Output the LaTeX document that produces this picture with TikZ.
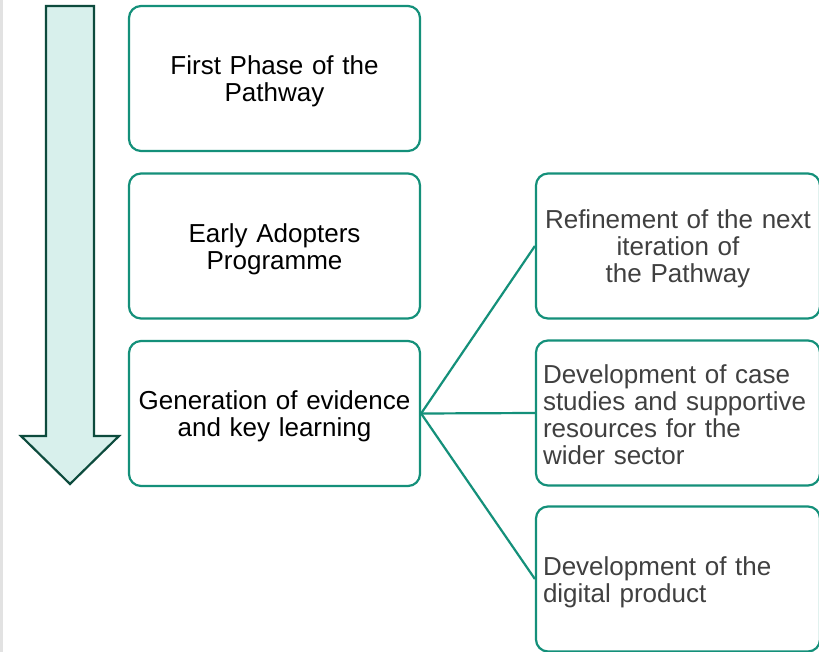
\documentclass[tikz,border=0pt]{standalone}
\usepackage{fontspec}
\setmainfont{Liberation Sans}
\definecolor{teal1}{HTML}{14907A}
\definecolor{darkarrow}{HTML}{0D4B3D}
\definecolor{arrowfill}{HTML}{D8F0EC}
\definecolor{graytext}{HTML}{404040}
\definecolor{stripgray}{HTML}{E2E2E2}
\begin{document}
\begin{tikzpicture}[x=1pt,y=-1pt,
  box/.style={draw=teal1, line width=2.2pt, rounded corners=12pt, fill=white,
    minimum height=145pt, inner sep=0pt},
  leftbox/.style={box, minimum width=291pt},
  rightbox/.style={box, minimum width=284pt},
  lbl/.style={inner sep=0pt, font=\fontsize{26}{27}\selectfont},
  leftlbl/.style={lbl, text width=283pt, align=center, text=black},
  rightlbl/.style={lbl, text width=270pt, text=graytext},
  link/.style={draw=teal1, line width=2.2pt}]
\clip (0,0) rectangle (819,652);
\fill[white] (0,0) rectangle (819,652);
\fill[stripgray] (0,0) rectangle (3,652);
% big arrow
\draw[darkarrow, fill=arrowfill, line width=2.2pt, miter limit=10]
  (46,6) -- (94,6) -- (94,436) -- (119,436) -- (70,484) -- (21,436) -- (46,436) -- cycle;
% left boxes
\node[leftbox] (first) at (274.5,78.5) {};
\node[leftbox] (early) at (274.5,246) {};
\node[leftbox] (gen) at (274.5,413.5) {};
\node[leftlbl] (firstT) at ([yshift=-3pt]first.center) {First Phase of the\\Pathway};
\node[leftlbl] (earlyT) at ([yshift=-3pt]early.center) {Early Adopters\\Programme};
\node[leftlbl] (genT) at ([yshift=-3pt]gen.center) {Generation of evidence\\and key learning};
% right boxes
\node[rightbox] (refine) at (678,246) {};
\node[rightbox] (cases) at (678,413) {};
\node[rightbox] (digital) at (678,579) {};
\node[rightlbl, align=center] (refineT) at ([yshift=-3pt]refine.center) {Refinement of the next\\iteration of\\the Pathway};
\node[rightlbl, align=left] (casesT) at ([yshift=-2pt]cases.center) {Development of case\\studies and supportive\\resources for the\\wider sector};
\node[rightlbl, align=left] (digitalT) at ([yshift=-3pt]digital.center) {Development of the\\digital product};
% connectors
\draw[link] (gen.east) -- (refine.west);
\draw[link] (gen.east) -- (cases.west);
\draw[link] (gen.east) -- (digital.west);
\end{tikzpicture}
\end{document}
